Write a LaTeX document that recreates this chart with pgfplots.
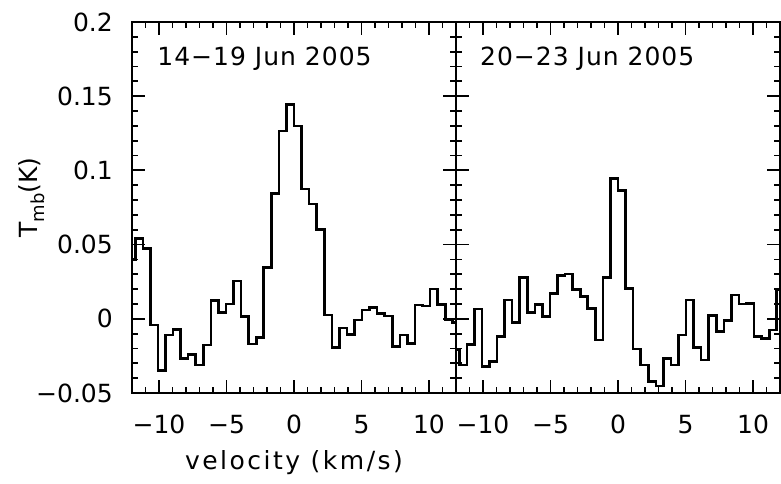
\documentclass[border=0pt]{standalone}
\usepackage{fontspec}
\setmainfont{DejaVu Sans}
\usepackage{pgfplots}
\pgfplotsset{compat=1.18}
\pgfplotstableread{
x y
-12.32 0.040
-11.76 0.054
-11.20 0.0475
-10.64 -0.0042
-10.08 -0.035
-9.52 -0.0109
-8.96 -0.0071
-8.40 -0.0266
-7.84 -0.0239
-7.28 -0.0311
-6.72 -0.0177
-6.16 0.0122
-5.60 0.0041
-5.04 0.010
-4.48 0.0255
-3.92 0.0014
-3.36 -0.017
-2.80 -0.0125
-2.24 0.0347
-1.68 0.0846
-1.12 0.1266
-0.56 0.1445
0.00 0.130
0.56 0.0875
1.12 0.0774
1.68 0.0603
2.24 0.0026
2.80 -0.0192
3.36 -0.0062
3.92 -0.0105
4.48 -0.0008
5.04 0.0059
5.60 0.0075
6.16 0.0034
6.72 0.0019
7.28 -0.0188
7.84 -0.0109
8.40 -0.0167
8.96 0.0093
9.52 0.0087
10.08 0.0201
10.64 0.0095
11.20 -0.0004
11.76 -0.0026
12.32 -0.0026
}\juneA
\pgfplotstableread{
x y
-12.32 -0.021
-11.76 -0.0311
-11.20 -0.0172
-10.64 0.0066
-10.08 -0.0323
-9.52 -0.0289
-8.96 -0.012
-8.40 0.0127
-7.84 -0.0026
-7.28 0.0277
-6.72 0.0041
-6.16 0.0098
-5.60 0.0014
-5.04 0.0172
-4.48 0.029
-3.92 0.0302
-3.36 0.0199
-2.80 0.0149
-2.24 0.0071
-1.68 -0.0143
-1.12 0.0277
-0.56 0.0947
0.00 0.0863
0.56 0.0206
1.12 -0.0204
1.68 -0.0311
2.24 -0.0424
2.80 -0.0453
3.36 -0.0266
3.92 -0.0311
4.48 -0.0109
5.04 0.0127
5.60 -0.0195
6.16 -0.0278
6.72 0.0021
7.28 -0.0087
7.84 -0.0013
8.40 0.016
8.96 0.010
9.52 0.0104
10.08 -0.012
10.64 -0.0131
11.20 -0.0075
11.76 0.0199
12.32 0.0199
}\juneB
\newcommand{\lblfont}{\fontsize{25}{30}\selectfont}
\begin{document}
\begin{tikzpicture}
\useasboundingbox (0,0) rectangle (781pt,484pt);
\pgfplotsset{
  panel/.style={
    scale only axis, width=324pt, height=371pt,
    anchor=south west,
    xmin=-12, xmax=12, ymin=-0.05, ymax=0.2,
    xtick={-10,-5,0,5,10},
    xticklabels={−10,−5,0,5,10},
    minor xtick={-11,-9,-8,-7,-6,-4,-3,-2,-1,1,2,3,4,6,7,8,9,11},
    ytick={-0.05,0,0.05,0.1,0.15,0.2},
    minor ytick={-0.04,-0.03,-0.02,-0.01,0.01,0.02,0.03,0.04,0.06,0.07,0.08,0.09,0.11,0.12,0.13,0.14,0.16,0.17,0.18,0.19},
    tick align=inside,
    major tick length=13pt, minor tick length=6pt,
    axis line style={line width=2pt, black},
    tick style={line width=1.8pt, black},
    font=\lblfont,
    xticklabel style={anchor=north, inner sep=0pt, yshift=-22pt, font=\lblfont},
    yticklabel style={anchor=east, inner sep=0pt, xshift=-19pt, font=\lblfont},
  }
}
\begin{axis}[panel, at={(132pt,91pt)},
  yticklabels={−0.05,0,0.05,0.1,0.15,0.2},
  xlabel={\addfontfeature{LetterSpace=10}velocity (km/s)},
  xlabel style={at={(axis description cs:0.5,-0.2075)}, anchor=base, inner sep=0pt, font=\lblfont},
  ylabel={T\raisebox{-0.28em}{\fontsize{18}{18}\selectfont mb}(K)},
  ylabel style={at={(axis description cs:-0.31,0.527)}, anchor=center, inner sep=0pt, font=\lblfont},
]
\addplot[const plot mark left, black, line width=2.6pt, mark=none] table[x=x,y=y] {\juneA};
\node[anchor=base west, inner sep=0pt, font=\lblfont] at (axis description cs:0.078,0.884) {\addfontfeature{LetterSpace=4}14−19 Jun 2005};
\end{axis}
\begin{axis}[panel, at={(456pt,91pt)},
  yticklabels={},
]
\addplot[const plot mark left, black, line width=2.6pt, mark=none] table[x=x,y=y] {\juneB};
\node[anchor=base west, inner sep=0pt, font=\lblfont] at (axis description cs:0.074,0.884) {\addfontfeature{LetterSpace=4}20−23 Jun 2005};
\end{axis}
\end{tikzpicture}
\end{document}
